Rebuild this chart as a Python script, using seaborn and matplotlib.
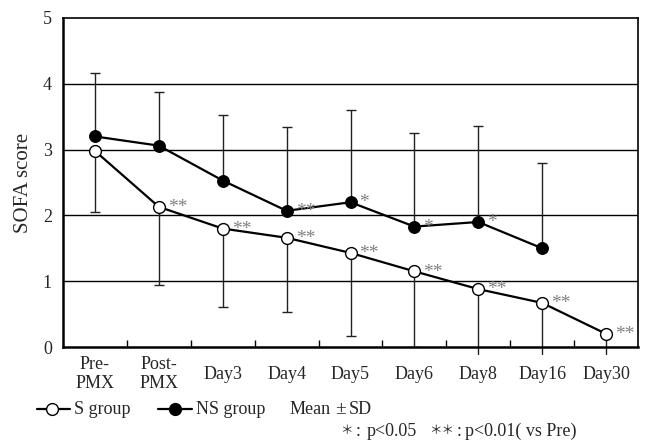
import matplotlib
matplotlib.use("Agg")
import matplotlib.pyplot as plt
import seaborn as sns
import numpy as np
import pandas as pd
from matplotlib.lines import Line2D

categories = ["Pre-\nPMX", "Post-\nPMX", "Day3", "Day4", "Day5", "Day6", "Day8", "Day16", "Day30"]
s_mean = [2.98, 2.13, 1.80, 1.66, 1.43, 1.15, 0.88, 0.67, 0.20]
s_sd = [0.93, 1.19, 1.19, 1.13, 1.26, 1.15, 1.10, 0.90, 0.45]
s_sig = ["", "**", "**", "**", "**", "**", "**", "**", "**"]
ns_mean = [3.20, 3.06, 2.53, 2.07, 2.20, 1.83, 1.90, 1.50]
ns_sd = [0.96, 0.81, 0.99, 1.27, 1.40, 1.42, 1.46, 1.30]
ns_sig = ["", "", "", "**", "*", "*", "*", ""]
y_ticks = [0, 1, 2, 3, 4, 5]

sns.set_style("white")
plt.rcParams['font.family'] = ['Liberation Serif', 'Noto Sans CJK JP', 'DejaVu Sans']
plt.rcParams['font.size'] = 13

fig = plt.figure(figsize=(6.45, 4.42), dpi=100)
ax = fig.add_axes([63/645, 1-347/442, 575/645, 329/442])

x_s = np.arange(len(s_mean))
x_ns = np.arange(len(ns_mean))
df_s = pd.DataFrame({"x": x_s, "y": s_mean})
df_ns = pd.DataFrame({"x": x_ns, "y": ns_mean})

# grid lines
for yv in y_ticks[1:-1]:
    ax.axhline(yv, color="black", lw=1.0, zorder=1)

# error bars: S lower only, NS upper only
ebc = "#222222"
for xi, m, sd in zip(x_s, s_mean, s_sd):
    lo = m - sd
    if lo >= 0:
        ax.errorbar([xi], [m], yerr=[[sd], [0]], fmt="none", ecolor=ebc, elinewidth=1.0,
                    capsize=3.5, capthick=1.0, zorder=2)
    else:
        ax.plot([xi, xi], [m, -0.1], color=ebc, lw=1.0, zorder=2, clip_on=False)
for xi, m, sd in zip(x_ns, ns_mean, ns_sd):
    ax.errorbar([xi], [m], yerr=[[0], [sd]], fmt="none", ecolor=ebc, elinewidth=1.0,
                capsize=3.5, capthick=1.0, zorder=2)

sns.lineplot(data=df_ns, x="x", y="y", ax=ax, color="black", lw=1.6, marker="o",
             markersize=8.5, markerfacecolor="black", markeredgecolor="black", zorder=3)
sns.lineplot(data=df_s, x="x", y="y", ax=ax, color="black", lw=1.6, marker="o",
             markersize=8.5, markerfacecolor="white", markeredgecolor="black",
             markeredgewidth=1.0, zorder=4)

ast_col = "#808080"
for xi, m, s in zip(x_s, s_mean, s_sig):
    if s:
        ax.annotate(s, (xi, m), xytext=(6.5, -0.5), textcoords="offset points",
                    ha="left", va="center", color=ast_col, fontsize=14, zorder=5)
for xi, m, s in zip(x_ns, ns_mean, ns_sig):
    if s:
        ax.annotate(s, (xi, m), xytext=(6.5, -0.5), textcoords="offset points",
                    ha="left", va="center", color=ast_col, fontsize=14, zorder=5)

ax.set_xlim(-0.5, len(categories) - 0.5)
ax.set_ylim(0, 5)
ax.set_yticks(y_ticks)
ax.set_yticklabels([str(v) for v in y_ticks])
ax.set_xticks(np.arange(len(categories)))
ax.set_xticklabels(categories, linespacing=1.2)
for lab in ax.get_xticklabels():
    lab.set_va("center")
ax.set_xticks(np.arange(len(categories) - 1) + 0.5, minor=True)
ax.tick_params(axis="x", which="major", length=0, pad=19.5, labelsize=13)
ax.tick_params(axis="x", which="minor", direction="in", length=5, width=1.0, color="black", bottom=True)
ax.tick_params(axis="y", length=0, pad=8, labelsize=13)
ax.set_xlabel("")
ax.set_ylabel("SOFA score", fontsize=15)
ax.yaxis.set_label_coords(-0.052, 0.5)
for sp in ax.spines.values():
    sp.set_color("black")
    sp.set_linewidth(1.2)
ax.spines["bottom"].set_linewidth(1.8)
ax.spines["left"].set_linewidth(1.8)

# custom legend
ly = 1 - 409/442
fig.add_artist(Line2D([37/645, 70/645], [ly, ly], color="black", lw=1.6))
fig.add_artist(Line2D([52/645], [ly], marker="o", markersize=8.5, markerfacecolor="white",
                      markeredgecolor="black", markeredgewidth=1.0, lw=0))
fig.text(74/645, ly, "S group", va="center", ha="left", fontsize=13)
fig.add_artist(Line2D([158/645, 192/645], [ly, ly], color="black", lw=1.6))
fig.add_artist(Line2D([175/645], [ly], marker="o", markersize=8.5, markerfacecolor="black",
                      markeredgecolor="black", lw=0))
fig.text(196/645, ly, "NS group", va="center", ha="left", fontsize=13)
fig.text(290/645, ly, "Mean", va="center", ha="left", fontsize=13)
fig.text(341/645, ly, "\u00b1", va="center", ha="center", fontsize=14)
fig.text(349/645, ly, "SD", va="center", ha="left", fontsize=13)

ly2 = 1 - 431/442
fig.text(346/645, ly2, "\uff0a", va="center", ha="center", fontsize=9)
fig.text(358/645, ly2, ":", va="center", ha="center", fontsize=13)
fig.text(367/645, ly2, "p<0.05", va="center", ha="left", fontsize=13)
fig.text(442/645, ly2, "\uff0a\uff0a", va="center", ha="center", fontsize=9)
fig.text(459/645, ly2, ":", va="center", ha="center", fontsize=13)
fig.text(465/645, ly2, "p<0.01( vs Pre)", va="center", ha="left", fontsize=13)

fig.savefig("out.png", dpi=100)
